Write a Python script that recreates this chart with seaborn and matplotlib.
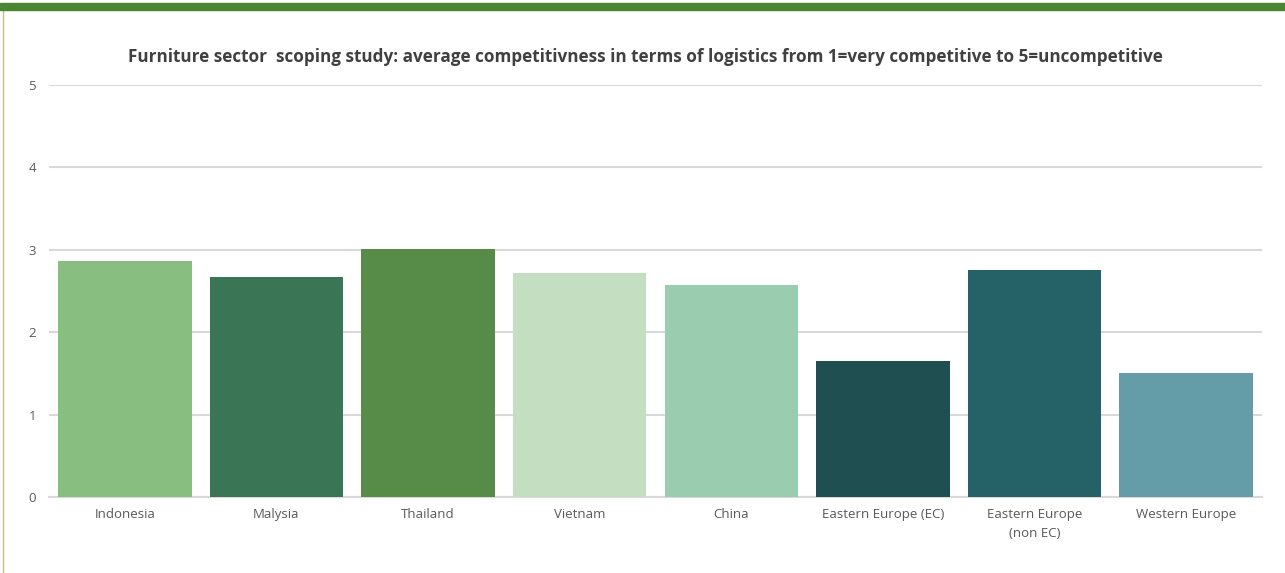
import matplotlib
matplotlib.use("Agg")
import matplotlib.pyplot as plt
import seaborn as sns
import pandas as pd
from matplotlib.patches import Rectangle
from matplotlib.lines import Line2D

categories = ["Indonesia", "Malysia", "Thailand", "Vietnam", "China",
              "Eastern Europe (EC)", "Eastern Europe\n(non EC)", "Western Europe"]
values = [2.86, 2.67, 3.01, 2.72, 2.57, 1.65, 2.75, 1.50]
colors = ["#88BE7F", "#3A7556", "#578B48", "#C3DEC1", "#9ACDAF",
          "#204F51", "#256268", "#649CA8"]
yticks = [0, 1, 2, 3, 4, 5]
title = "Furniture sector  scoping study: average competitivness in terms of logistics from 1=very competitive to 5=uncompetitive"

sns.set_theme(style="white")
plt.rcParams['font.family'] = ['Open Sans', 'DejaVu Sans']

df = pd.DataFrame({"cat": categories, "val": values})

fig = plt.figure(figsize=(12.85, 5.73), dpi=100)
W, H = 1285, 573
ax = fig.add_axes([49 / W, (H - 497) / H, (1262 - 49) / W, (497 - 85) / H])

sns.barplot(data=df, x="cat", y="val", hue="cat", palette=colors, legend=False,
            width=0.88, saturation=1, linewidth=0, ax=ax, zorder=3)

ax.set_ylim(0, 5)
ax.set_xlim(-0.5, len(categories) - 0.5)
ax.set_yticks(yticks)
ax.set_yticklabels([str(t) for t in yticks])
ax.yaxis.grid(True, color="#d9d9d9", linewidth=1.5, zorder=0)
ax.set_axisbelow(True)
for s in ["top", "right", "left"]:
    ax.spines[s].set_visible(False)
ax.spines["bottom"].set_color("#d9d9d9")
ax.spines["bottom"].set_linewidth(1.5)
ax.set_xlabel("")
ax.set_ylabel("")
ax.tick_params(axis="both", length=0, colors="#595959", labelsize=9.5)
ax.tick_params(axis="y", pad=12)
ax.tick_params(axis="x", pad=8)
for lbl in ax.get_yticklabels():
    lbl.set_horizontalalignment("center")
for lbl in ax.get_xticklabels():
    lbl.set_linespacing(1.6)

fig.text(645 / W, 1 - 57 / H, title, ha="center", va="center",
         fontsize=12.35, fontweight="bold", color="#404040")

fig.patches.append(Rectangle((0, 1 - 10 / H), 1, 7 / H, transform=fig.transFigure,
                             color="#4A8533", zorder=5))
fig.lines.append(Line2D([3 / W, 3 / W], [0, 1 - 10 / H], transform=fig.transFigure,
                        color="#C9BE86", linewidth=1))

fig.savefig("out.png", dpi=100)
